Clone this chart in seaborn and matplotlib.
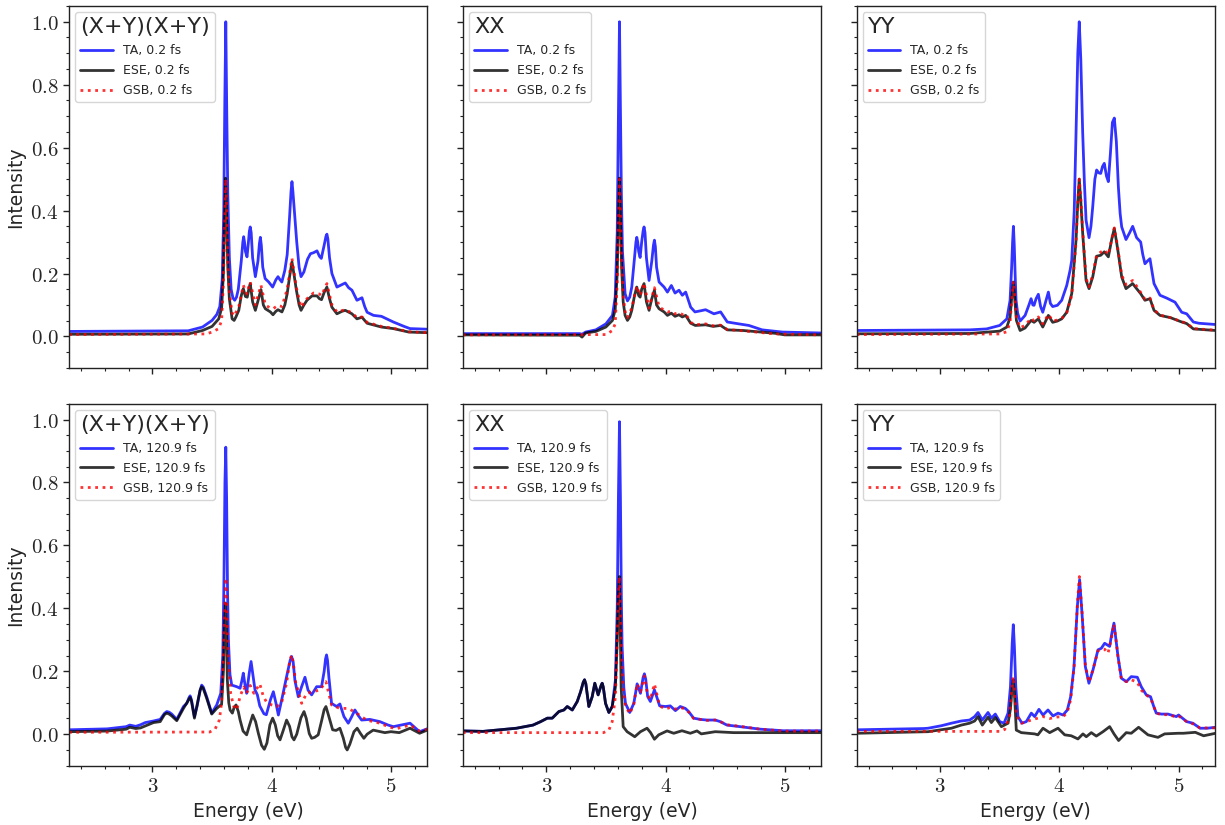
import numpy as np
import pandas as pd
import matplotlib
matplotlib.use("Agg")
import matplotlib.pyplot as plt
import seaborn as sns
from matplotlib.ticker import MultipleLocator, FuncFormatter

# ---------------- data (energy in eV, intensity) ----------------
panel_titles = ["(X+Y)(X+Y)", "XX", "YY"]
times = ["0.2 fs", "120.9 fs"]

# ---- top row, 0.2 fs ----
E_xpy_t1_TA = [2.30, 3.30, 3.33, 3.42, 3.50, 3.54, 3.565, 3.585, 3.598, 3.607, 3.615, 3.623, 3.632, 3.645, 3.66, 3.675, 3.69, 3.705, 3.72, 3.745, 3.758, 3.765, 3.772, 3.78, 3.793, 3.805, 3.813, 3.82, 3.828, 3.84, 3.863, 3.885, 3.897, 3.905, 3.913, 3.925, 3.945, 3.975, 4.008, 4.035, 4.053, 4.07, 4.085, 4.11, 4.13, 4.15, 4.162, 4.17, 4.178, 4.19, 4.21, 4.23, 4.246, 4.27, 4.30, 4.325, 4.35, 4.38, 4.40, 4.416, 4.44, 4.455, 4.463, 4.471, 4.485, 4.505, 4.547, 4.59, 4.617, 4.645, 4.673, 4.715, 4.757, 4.78, 4.80, 4.854, 4.92, 5.02, 5.11, 5.16, 5.31]
I_xpy_t1_TA = [0.016, 0.018, 0.021, 0.030, 0.051, 0.070, 0.095, 0.18, 0.40, 0.75, 1.0, 0.72, 0.45, 0.25, 0.15, 0.122, 0.115, 0.125, 0.15, 0.24, 0.30, 0.317, 0.30, 0.27, 0.253, 0.30, 0.335, 0.348, 0.33, 0.25, 0.19, 0.24, 0.295, 0.315, 0.29, 0.22, 0.184, 0.173, 0.157, 0.18, 0.19, 0.18, 0.173, 0.21, 0.26, 0.38, 0.46, 0.492, 0.46, 0.40, 0.30, 0.22, 0.19, 0.205, 0.245, 0.263, 0.266, 0.272, 0.255, 0.248, 0.29, 0.318, 0.325, 0.31, 0.25, 0.20, 0.157, 0.165, 0.17, 0.155, 0.147, 0.115, 0.123, 0.095, 0.077, 0.067, 0.064, 0.046, 0.032, 0.025, 0.023]

E_xpy_t1_ESE = [2.30, 3.30, 3.42, 3.50, 3.556, 3.58, 3.595, 3.605, 3.613, 3.622, 3.632, 3.645, 3.668, 3.685, 3.70, 3.724, 3.745, 3.762, 3.78, 3.795, 3.808, 3.82, 3.84, 3.863, 3.89, 3.91, 3.93, 3.947, 3.989, 4.011, 4.035, 4.053, 4.086, 4.11, 4.13, 4.15, 4.17, 4.19, 4.207, 4.23, 4.246, 4.27, 4.296, 4.338, 4.38, 4.40, 4.418, 4.44, 4.463, 4.485, 4.505, 4.547, 4.59, 4.617, 4.673, 4.715, 4.757, 4.80, 4.92, 5.02, 5.15, 5.31]
I_xpy_t1_ESE = [0.007, 0.008, 0.019, 0.032, 0.056, 0.09, 0.20, 0.38, 0.503, 0.38, 0.22, 0.12, 0.056, 0.051, 0.062, 0.083, 0.13, 0.152, 0.127, 0.125, 0.15, 0.168, 0.11, 0.083, 0.12, 0.149, 0.10, 0.088, 0.078, 0.069, 0.08, 0.085, 0.078, 0.10, 0.136, 0.19, 0.237, 0.19, 0.147, 0.10, 0.083, 0.10, 0.115, 0.129, 0.129, 0.12, 0.117, 0.14, 0.157, 0.12, 0.093, 0.072, 0.08, 0.083, 0.072, 0.056, 0.061, 0.042, 0.030, 0.025, 0.014, 0.012]

E_xpy_t1_GSB = [2.30, 3.45, 3.50, 3.556, 3.58, 3.595, 3.605, 3.614, 3.623, 3.632, 3.645, 3.668, 3.685, 3.724, 3.762, 3.79, 3.82, 3.863, 3.91, 3.947, 3.989, 4.011, 4.053, 4.086, 4.13, 4.17, 4.207, 4.246, 4.296, 4.35, 4.40, 4.418, 4.463, 4.505, 4.547, 4.617, 4.673, 4.715, 4.757, 4.80, 4.92, 5.02, 5.15, 5.31]
I_xpy_t1_GSB = [0.006, 0.008, 0.014, 0.025, 0.051, 0.17, 0.36, 0.50, 0.39, 0.24, 0.14, 0.075, 0.065, 0.095, 0.163, 0.135, 0.173, 0.10, 0.163, 0.10, 0.09, 0.088, 0.099, 0.095, 0.15, 0.248, 0.155, 0.093, 0.12, 0.138, 0.135, 0.13, 0.168, 0.10, 0.078, 0.085, 0.075, 0.06, 0.062, 0.045, 0.032, 0.026, 0.015, 0.012]

E_xx_t1_TA = [2.30, 3.28, 3.30, 3.33, 3.416, 3.50, 3.555, 3.578, 3.595, 3.605, 3.614, 3.622, 3.63, 3.639, 3.661, 3.681, 3.70, 3.717, 3.74, 3.752, 3.759, 3.767, 3.775, 3.787, 3.80, 3.812, 3.82, 3.828, 3.84, 3.862, 3.885, 3.899, 3.907, 3.915, 3.925, 3.946, 3.988, 4.016, 4.049, 4.08, 4.113, 4.141, 4.169, 4.211, 4.247, 4.30, 4.336, 4.406, 4.462, 4.518, 4.615, 4.699, 4.81, 4.98, 5.31]
I_xx_t1_TA = [0.009, 0.009, 0.007, 0.014, 0.021, 0.040, 0.067, 0.125, 0.33, 0.70, 1.0, 0.72, 0.45, 0.27, 0.136, 0.113, 0.125, 0.157, 0.25, 0.30, 0.315, 0.30, 0.27, 0.251, 0.30, 0.335, 0.348, 0.33, 0.25, 0.178, 0.24, 0.29, 0.306, 0.285, 0.22, 0.173, 0.157, 0.141, 0.162, 0.138, 0.147, 0.131, 0.141, 0.093, 0.078, 0.082, 0.085, 0.072, 0.078, 0.046, 0.040, 0.035, 0.021, 0.014, 0.011]

E_xx_t1_ESE = [2.30, 3.28, 3.30, 3.33, 3.416, 3.50, 3.555, 3.578, 3.595, 3.605, 3.613, 3.622, 3.632, 3.645, 3.661, 3.681, 3.70, 3.717, 3.74, 3.759, 3.775, 3.787, 3.80, 3.82, 3.84, 3.862, 3.885, 3.907, 3.925, 3.946, 3.988, 4.016, 4.049, 4.08, 4.113, 4.141, 4.169, 4.211, 4.25, 4.336, 4.40, 4.462, 4.518, 4.65, 4.92, 5.0, 5.31]
I_xx_t1_ESE = [0.005, 0.004, -0.002, 0.011, 0.016, 0.030, 0.051, 0.085, 0.20, 0.38, 0.503, 0.38, 0.22, 0.11, 0.067, 0.051, 0.062, 0.083, 0.13, 0.157, 0.13, 0.125, 0.15, 0.168, 0.11, 0.083, 0.12, 0.147, 0.10, 0.088, 0.078, 0.067, 0.074, 0.064, 0.069, 0.062, 0.067, 0.042, 0.035, 0.037, 0.032, 0.035, 0.021, 0.019, 0.010, 0.005, 0.005]

E_xx_t1_GSB = [2.30, 3.50, 3.555, 3.578, 3.595, 3.605, 3.614, 3.623, 3.632, 3.645, 3.661, 3.681, 3.717, 3.759, 3.787, 3.82, 3.862, 3.907, 3.946, 3.988, 4.016, 4.049, 4.08, 4.113, 4.141, 4.169, 4.211, 4.25, 4.336, 4.40, 4.462, 4.518, 4.65, 4.92, 5.31]
I_xx_t1_GSB = [0.005, 0.006, 0.019, 0.040, 0.17, 0.36, 0.50, 0.39, 0.24, 0.13, 0.08, 0.06, 0.09, 0.16, 0.13, 0.17, 0.09, 0.155, 0.095, 0.083, 0.078, 0.08, 0.072, 0.075, 0.07, 0.072, 0.045, 0.037, 0.04, 0.034, 0.036, 0.022, 0.018, 0.008, 0.005]

E_yy_t1_TA = [2.30, 3.25, 3.39, 3.50, 3.56, 3.587, 3.60, 3.608, 3.615, 3.622, 3.63, 3.637, 3.65, 3.671, 3.713, 3.745, 3.763, 3.778, 3.788, 3.805, 3.824, 3.843, 3.861, 3.885, 3.908, 3.925, 3.944, 3.984, 4.02, 4.062, 4.09, 4.104, 4.125, 4.14, 4.155, 4.167, 4.18, 4.196, 4.21, 4.224, 4.249, 4.265, 4.28, 4.298, 4.313, 4.33, 4.347, 4.362, 4.377, 4.395, 4.411, 4.428, 4.445, 4.461, 4.478, 4.495, 4.51, 4.523, 4.559, 4.59, 4.615, 4.648, 4.682, 4.70, 4.718, 4.74, 4.76, 4.78, 4.794, 4.844, 4.90, 4.97, 5.026, 5.068, 5.124, 5.17, 5.31]
I_yy_t1_TA = [0.019, 0.021, 0.024, 0.035, 0.056, 0.115, 0.22, 0.30, 0.35, 0.29, 0.19, 0.115, 0.075, 0.049, 0.067, 0.10, 0.12, 0.10, 0.099, 0.12, 0.134, 0.095, 0.077, 0.11, 0.141, 0.105, 0.095, 0.099, 0.115, 0.162, 0.21, 0.242, 0.40, 0.646, 0.90, 1.0, 0.88, 0.646, 0.49, 0.37, 0.314, 0.35, 0.412, 0.50, 0.529, 0.52, 0.518, 0.54, 0.55, 0.51, 0.492, 0.58, 0.68, 0.694, 0.62, 0.476, 0.39, 0.348, 0.308, 0.33, 0.35, 0.314, 0.30, 0.26, 0.231, 0.24, 0.247, 0.20, 0.168, 0.131, 0.122, 0.109, 0.077, 0.072, 0.046, 0.042, 0.038]

E_yy_t1_ESE = [2.30, 3.25, 3.50, 3.56, 3.587, 3.60, 3.615, 3.63, 3.64, 3.671, 3.713, 3.763, 3.788, 3.824, 3.861, 3.908, 3.944, 3.984, 4.02, 4.062, 4.104, 4.14, 4.155, 4.167, 4.18, 4.196, 4.224, 4.249, 4.28, 4.313, 4.347, 4.377, 4.411, 4.44, 4.461, 4.48, 4.495, 4.523, 4.559, 4.615, 4.648, 4.682, 4.718, 4.76, 4.794, 4.844, 4.93, 5.026, 5.068, 5.124, 5.31]
I_yy_t1_ESE = [0.0085, 0.0095, 0.017, 0.030, 0.061, 0.12, 0.173, 0.10, 0.051, 0.019, 0.027, 0.051, 0.045, 0.056, 0.030, 0.067, 0.045, 0.049, 0.056, 0.077, 0.136, 0.306, 0.43, 0.50, 0.43, 0.327, 0.178, 0.152, 0.189, 0.255, 0.258, 0.269, 0.253, 0.31, 0.343, 0.30, 0.263, 0.189, 0.152, 0.168, 0.152, 0.136, 0.115, 0.12, 0.083, 0.067, 0.060, 0.046, 0.041, 0.024, 0.019]

E_yy_t1_GSB = [2.30, 3.50, 3.56, 3.587, 3.60, 3.615, 3.63, 3.64, 3.671, 3.713, 3.763, 3.788, 3.824, 3.861, 3.908, 3.944, 3.984, 4.02, 4.062, 4.104, 4.14, 4.155, 4.167, 4.18, 4.196, 4.224, 4.249, 4.28, 4.313, 4.347, 4.377, 4.411, 4.44, 4.461, 4.48, 4.495, 4.523, 4.559, 4.615, 4.648, 4.682, 4.718, 4.76, 4.794, 4.844, 4.93, 5.026, 5.068, 5.124, 5.31]
I_yy_t1_GSB = [0.006, 0.008, 0.015, 0.045, 0.11, 0.175, 0.11, 0.06, 0.028, 0.035, 0.058, 0.05, 0.062, 0.04, 0.07, 0.05, 0.052, 0.058, 0.075, 0.13, 0.30, 0.43, 0.50, 0.44, 0.335, 0.185, 0.158, 0.195, 0.26, 0.268, 0.275, 0.26, 0.31, 0.345, 0.305, 0.268, 0.195, 0.165, 0.178, 0.16, 0.14, 0.118, 0.122, 0.085, 0.068, 0.060, 0.047, 0.042, 0.025, 0.020]

# ---- bottom row, 120.9 fs ----
E_xpy_t2_TA = [2.30, 2.62, 2.78, 2.81, 2.86, 2.90, 2.94, 3.009, 3.065, 3.10, 3.12, 3.14, 3.162, 3.204, 3.26, 3.288, 3.305, 3.316, 3.327, 3.352, 3.375, 3.400, 3.413, 3.426, 3.455, 3.497, 3.539, 3.573, 3.59, 3.60, 3.608, 3.615, 3.622, 3.63, 3.637, 3.65, 3.665, 3.707, 3.735, 3.75, 3.762, 3.775, 3.79, 3.812, 3.827, 3.842, 3.86, 3.88, 3.90, 3.935, 3.955, 3.99, 4.014, 4.035, 4.056, 4.09, 4.125, 4.155, 4.167, 4.18, 4.195, 4.223, 4.25, 4.279, 4.305, 4.335, 4.377, 4.418, 4.44, 4.452, 4.46, 4.468, 4.48, 4.502, 4.544, 4.572, 4.606, 4.642, 4.67, 4.698, 4.725, 4.754, 4.823, 4.907, 4.977, 5.02, 5.16, 5.24, 5.31]
I_xpy_t2_TA = [0.014, 0.017, 0.024, 0.029, 0.025, 0.030, 0.037, 0.042, 0.047, 0.066, 0.072, 0.070, 0.064, 0.047, 0.088, 0.098, 0.115, 0.122, 0.110, 0.056, 0.090, 0.140, 0.156, 0.150, 0.119, 0.067, 0.093, 0.13, 0.25, 0.50, 0.80, 0.912, 0.75, 0.45, 0.30, 0.19, 0.156, 0.151, 0.146, 0.170, 0.194, 0.160, 0.13, 0.195, 0.231, 0.190, 0.141, 0.125, 0.09, 0.065, 0.062, 0.11, 0.135, 0.10, 0.061, 0.12, 0.183, 0.235, 0.247, 0.230, 0.17, 0.119, 0.15, 0.181, 0.14, 0.125, 0.151, 0.151, 0.20, 0.240, 0.252, 0.235, 0.18, 0.098, 0.088, 0.096, 0.056, 0.035, 0.055, 0.077, 0.060, 0.045, 0.047, 0.040, 0.029, 0.024, 0.035, 0.008, 0.018]

E_xpy_t2_ESE = [2.30, 2.62, 2.78, 2.81, 2.86, 2.90, 3.009, 3.065, 3.10, 3.12, 3.14, 3.162, 3.204, 3.26, 3.305, 3.316, 3.327, 3.352, 3.386, 3.400, 3.413, 3.426, 3.455, 3.497, 3.539, 3.58, 3.595, 3.605, 3.612, 3.62, 3.628, 3.64, 3.651, 3.67, 3.685, 3.701, 3.72, 3.735, 3.76, 3.79, 3.815, 3.841, 3.865, 3.888, 3.915, 3.938, 3.96, 3.985, 4.008, 4.03, 4.05, 4.07, 4.095, 4.125, 4.15, 4.17, 4.187, 4.21, 4.245, 4.271, 4.29, 4.315, 4.335, 4.36, 4.39, 4.42, 4.44, 4.455, 4.475, 4.511, 4.54, 4.572, 4.60, 4.62, 4.633, 4.655, 4.69, 4.717, 4.745, 4.773, 4.80, 4.851, 4.949, 5.0, 5.07, 5.16, 5.24, 5.31]
I_xpy_t2_ESE = [0.008, 0.010, 0.016, 0.022, 0.018, 0.020, 0.037, 0.040, 0.062, 0.067, 0.064, 0.058, 0.043, 0.082, 0.110, 0.117, 0.105, 0.051, 0.115, 0.140, 0.151, 0.145, 0.114, 0.064, 0.082, 0.095, 0.20, 0.36, 0.417, 0.33, 0.173, 0.10, 0.077, 0.067, 0.085, 0.093, 0.072, 0.045, 0.010, -0.002, 0.030, 0.061, 0.040, 0.003, -0.035, -0.048, -0.028, 0.030, 0.051, 0.030, -0.005, -0.018, 0.010, 0.045, 0.025, -0.008, -0.018, 0.000, 0.052, 0.072, 0.050, 0.002, -0.013, -0.010, -0.002, 0.045, 0.078, 0.088, 0.062, 0.014, 0.012, 0.019, -0.012, -0.042, -0.050, -0.032, 0.008, 0.019, 0.002, -0.013, 0.000, 0.013, 0.005, 0.008, 0.005, 0.019, 0.003, 0.014]

E_xpy_t2_GSB = [2.30, 3.48, 3.525, 3.561, 3.58, 3.595, 3.607, 3.616, 3.625, 3.636, 3.656, 3.68, 3.707, 3.735, 3.765, 3.79, 3.82, 3.85, 3.90, 3.93, 3.96, 4.0, 4.042, 4.083, 4.125, 4.15, 4.167, 4.18, 4.20, 4.251, 4.293, 4.349, 4.405, 4.455, 4.502, 4.572, 4.642, 4.712, 4.795, 4.907, 4.99, 5.05, 5.16, 5.24, 5.31]
I_xpy_t2_GSB = [0.006, 0.007, 0.016, 0.045, 0.10, 0.25, 0.42, 0.496, 0.38, 0.24, 0.13, 0.09, 0.077, 0.12, 0.15, 0.13, 0.155, 0.13, 0.16, 0.12, 0.10, 0.093, 0.088, 0.10, 0.162, 0.230, 0.252, 0.230, 0.167, 0.098, 0.13, 0.135, 0.141, 0.167, 0.093, 0.082, 0.082, 0.067, 0.045, 0.035, 0.022, 0.018, 0.029, 0.010, 0.016]

E_xx_t2_TA = [2.30, 2.47, 2.75, 2.889, 2.953, 3.009, 3.05, 3.106, 3.148, 3.176, 3.218, 3.26, 3.288, 3.310, 3.321, 3.332, 3.357, 3.385, 3.407, 3.435, 3.460, 3.469, 3.478, 3.497, 3.525, 3.553, 3.58, 3.595, 3.605, 3.614, 3.622, 3.63, 3.636, 3.65, 3.664, 3.70, 3.734, 3.762, 3.79, 3.812, 3.823, 3.834, 3.85, 3.873, 3.907, 3.951, 3.999, 4.04, 4.083, 4.124, 4.166, 4.194, 4.236, 4.292, 4.348, 4.417, 4.459, 4.515, 4.626, 4.794, 4.989, 5.31]
I_xx_t2_TA = [0.0105, 0.009, 0.019, 0.029, 0.040, 0.051, 0.051, 0.072, 0.077, 0.088, 0.077, 0.104, 0.135, 0.165, 0.173, 0.160, 0.088, 0.119, 0.162, 0.125, 0.155, 0.162, 0.150, 0.098, 0.069, 0.088, 0.173, 0.40, 0.75, 0.993, 0.75, 0.42, 0.28, 0.15, 0.098, 0.069, 0.098, 0.16, 0.13, 0.180, 0.192, 0.175, 0.12, 0.104, 0.141, 0.09, 0.088, 0.09, 0.075, 0.088, 0.082, 0.072, 0.051, 0.047, 0.045, 0.045, 0.040, 0.029, 0.024, 0.016, 0.011, 0.011]

E_xx_t2_ESE = [2.30, 2.47, 2.75, 2.889, 2.953, 3.009, 3.05, 3.106, 3.148, 3.176, 3.218, 3.26, 3.288, 3.310, 3.321, 3.332, 3.357, 3.385, 3.407, 3.435, 3.460, 3.469, 3.478, 3.497, 3.525, 3.553, 3.58, 3.595, 3.605, 3.613, 3.62, 3.628, 3.645, 3.678, 3.742, 3.79, 3.845, 3.875, 3.907, 3.943, 4.013, 4.069, 4.138, 4.208, 4.264, 4.30, 4.417, 4.571, 5.31]
I_xx_t2_ESE = [0.0105, 0.009, 0.019, 0.029, 0.040, 0.051, 0.051, 0.072, 0.077, 0.088, 0.077, 0.104, 0.135, 0.165, 0.173, 0.160, 0.088, 0.119, 0.162, 0.125, 0.155, 0.162, 0.150, 0.098, 0.069, 0.088, 0.15, 0.30, 0.45, 0.501, 0.35, 0.15, 0.024, 0.008, -0.008, 0.008, 0.019, 0.005, -0.016, -0.002, 0.0105, 0.003, 0.011, 0.003, 0.0105, 0.001, 0.008, 0.005, 0.005]

E_xx_t2_GSB = [2.30, 3.48, 3.525, 3.553, 3.58, 3.595, 3.605, 3.614, 3.622, 3.632, 3.645, 3.664, 3.70, 3.734, 3.762, 3.79, 3.823, 3.85, 3.873, 3.907, 3.951, 3.999, 4.04, 4.083, 4.124, 4.166, 4.194, 4.236, 4.292, 4.348, 4.417, 4.459, 4.515, 4.626, 4.794, 4.989, 5.31]
I_xx_t2_GSB = [0.005, 0.005, 0.013, 0.040, 0.12, 0.30, 0.45, 0.50, 0.40, 0.24, 0.14, 0.09, 0.065, 0.095, 0.16, 0.135, 0.185, 0.125, 0.11, 0.16, 0.09, 0.08, 0.085, 0.08, 0.085, 0.08, 0.07, 0.05, 0.047, 0.044, 0.045, 0.040, 0.030, 0.025, 0.016, 0.010, 0.010]

E_yy_t2_TA = [2.30, 2.86, 2.899, 3.011, 3.095, 3.178, 3.248, 3.29, 3.318, 3.354, 3.402, 3.43, 3.463, 3.50, 3.536, 3.57, 3.59, 3.605, 3.614, 3.623, 3.635, 3.653, 3.687, 3.723, 3.765, 3.793, 3.829, 3.863, 3.905, 3.947, 3.989, 4.031, 4.067, 4.095, 4.123, 4.151, 4.17, 4.19, 4.218, 4.248, 4.282, 4.324, 4.352, 4.38, 4.422, 4.44, 4.458, 4.475, 4.492, 4.52, 4.562, 4.603, 4.654, 4.687, 4.729, 4.765, 4.79, 4.813, 4.855, 4.911, 4.981, 5.0, 5.068, 5.12, 5.18, 5.24, 5.31]
I_yy_t2_TA = [0.014, 0.018, 0.019, 0.027, 0.035, 0.042, 0.045, 0.056, 0.069, 0.045, 0.069, 0.051, 0.064, 0.040, 0.035, 0.067, 0.15, 0.29, 0.348, 0.28, 0.15, 0.056, 0.035, 0.040, 0.067, 0.056, 0.079, 0.061, 0.077, 0.058, 0.067, 0.061, 0.077, 0.119, 0.215, 0.406, 0.491, 0.385, 0.215, 0.162, 0.204, 0.268, 0.273, 0.289, 0.279, 0.32, 0.353, 0.30, 0.247, 0.178, 0.167, 0.183, 0.181, 0.151, 0.125, 0.119, 0.09, 0.067, 0.064, 0.064, 0.056, 0.061, 0.040, 0.035, 0.019, 0.019, 0.022]

E_yy_t2_ESE = [2.30, 2.899, 3.095, 3.178, 3.248, 3.29, 3.318, 3.354, 3.402, 3.43, 3.463, 3.514, 3.57, 3.59, 3.605, 3.614, 3.625, 3.639, 3.681, 3.793, 3.82, 3.863, 3.919, 3.989, 4.045, 4.10, 4.156, 4.198, 4.226, 4.268, 4.31, 4.366, 4.422, 4.46, 4.497, 4.561, 4.603, 4.665, 4.743, 4.827, 4.883, 4.995, 5.04, 5.14, 5.21, 5.31]
I_yy_t2_ESE = [0.003, 0.008, 0.019, 0.029, 0.035, 0.042, 0.056, 0.029, 0.054, 0.037, 0.053, 0.024, 0.035, 0.08, 0.15, 0.173, 0.12, 0.013, 0.005, 0.001, -0.002, 0.019, 0.005, 0.019, -0.002, -0.005, -0.015, 0.001, -0.008, 0.005, -0.006, 0.008, 0.024, 0.0, -0.020, 0.005, 0.003, 0.022, -0.002, -0.010, 0.001, 0.003, 0.003, 0.006, -0.005, 0.003]

E_yy_t2_GSB = [2.30, 3.50, 3.542, 3.584, 3.60, 3.614, 3.625, 3.64, 3.681, 3.765, 3.863, 3.919, 3.989, 4.031, 4.067, 4.095, 4.123, 4.151, 4.168, 4.19, 4.218, 4.248, 4.282, 4.324, 4.352, 4.38, 4.408, 4.44, 4.458, 4.475, 4.492, 4.52, 4.562, 4.603, 4.654, 4.687, 4.729, 4.765, 4.813, 4.855, 4.911, 4.981, 5.0, 5.068, 5.12, 5.18, 5.31]
I_yy_t2_GSB = [0.009, 0.009, 0.015, 0.06, 0.14, 0.183, 0.13, 0.06, 0.035, 0.045, 0.056, 0.05, 0.055, 0.055, 0.07, 0.11, 0.21, 0.41, 0.501, 0.39, 0.22, 0.165, 0.205, 0.265, 0.27, 0.27, 0.257, 0.31, 0.35, 0.30, 0.245, 0.175, 0.167, 0.173, 0.165, 0.14, 0.125, 0.115, 0.067, 0.062, 0.062, 0.055, 0.058, 0.040, 0.033, 0.020, 0.020]

series = {
    (0, 0): [(E_xpy_t1_TA, I_xpy_t1_TA), (E_xpy_t1_ESE, I_xpy_t1_ESE), (E_xpy_t1_GSB, I_xpy_t1_GSB)],
    (0, 1): [(E_xx_t1_TA, I_xx_t1_TA), (E_xx_t1_ESE, I_xx_t1_ESE), (E_xx_t1_GSB, I_xx_t1_GSB)],
    (0, 2): [(E_yy_t1_TA, I_yy_t1_TA), (E_yy_t1_ESE, I_yy_t1_ESE), (E_yy_t1_GSB, I_yy_t1_GSB)],
    (1, 0): [(E_xpy_t2_TA, I_xpy_t2_TA), (E_xpy_t2_ESE, I_xpy_t2_ESE), (E_xpy_t2_GSB, I_xpy_t2_GSB)],
    (1, 1): [(E_xx_t2_TA, I_xx_t2_TA), (E_xx_t2_ESE, I_xx_t2_ESE), (E_xx_t2_GSB, I_xx_t2_GSB)],
    (1, 2): [(E_yy_t2_TA, I_yy_t2_TA), (E_yy_t2_ESE, I_yy_t2_ESE), (E_yy_t2_GSB, I_yy_t2_GSB)],
}
kinds = ["TA", "ESE", "GSB"]

# ---------------- styling ----------------
sns.set_style("ticks")
plt.rcParams["font.family"] = ["DejaVu Sans"]
plt.rcParams["mathtext.fontset"] = "cm"
plt.rcParams["xtick.direction"] = "out"
plt.rcParams["ytick.direction"] = "out"
plt.rcParams["axes.edgecolor"] = "#222222"
plt.rcParams["axes.linewidth"] = 1.0
plt.rcParams["lines.solid_joinstyle"] = "round"
plt.rcParams["lines.dash_joinstyle"] = "round"

styles = {
    "TA": dict(color="#0000ff", alpha=0.8, linestyle="-", linewidth=2.0),
    "ESE": dict(color="#000000", alpha=0.8, linestyle="-", linewidth=2.0),
    "GSB": dict(color="#ff0000", alpha=0.8, linestyle=":", linewidth=2.0),
}

fig, axes = plt.subplots(2, 3, figsize=(12.25, 8.25), dpi=100, sharex=True, sharey=True)
fig.subplots_adjust(left=0.0563, right=0.9918, top=0.9927, bottom=0.0719,
                    wspace=0.099, hspace=0.099)

fmt = FuncFormatter(lambda v, p: r"$%.1f$" % v if abs(v) > 1e-9 else r"$0.0$")
fmtx = FuncFormatter(lambda v, p: r"$%d$" % round(v))

for (r, c), lst in series.items():
    ax = axes[r, c]
    for kind, (E, I) in zip(kinds, lst):
        df = pd.DataFrame({"E": E, "I": I})
        sns.lineplot(data=df, x="E", y="I", ax=ax, sort=False, estimator=None,
                     label=f"{kind}, {times[r]}", **styles[kind])
    ax.set_xlim(2.3, 5.305)
    ax.set_ylim(-0.1, 1.05)
    ax.xaxis.set_major_locator(MultipleLocator(1.0))
    ax.xaxis.set_minor_locator(MultipleLocator(0.2))
    ax.yaxis.set_major_locator(MultipleLocator(0.2))
    ax.yaxis.set_minor_locator(MultipleLocator(0.05))
    ax.xaxis.set_major_formatter(fmtx)
    ax.yaxis.set_major_formatter(fmt)
    ax.tick_params(axis="both", which="major", labelsize=15, length=4, width=1, color="#222222")
    ax.tick_params(axis="both", which="minor", length=2.5, width=0.8, color="#222222")
    ax.set_xlabel("Energy (eV)" if r == 1 else "", fontsize=13.5)
    ax.set_ylabel("Intensity" if c == 0 else "", fontsize=13.5)
    leg = ax.legend(loc="upper left", title=panel_titles[c], fontsize=9,
                    title_fontsize=16, handlelength=2.6, alignment="left",
                    framealpha=0.8, borderaxespad=0.5, labelspacing=0.55)
    leg.get_frame().set_edgecolor("#cccccc")

fig.savefig("out.png", dpi=100)
